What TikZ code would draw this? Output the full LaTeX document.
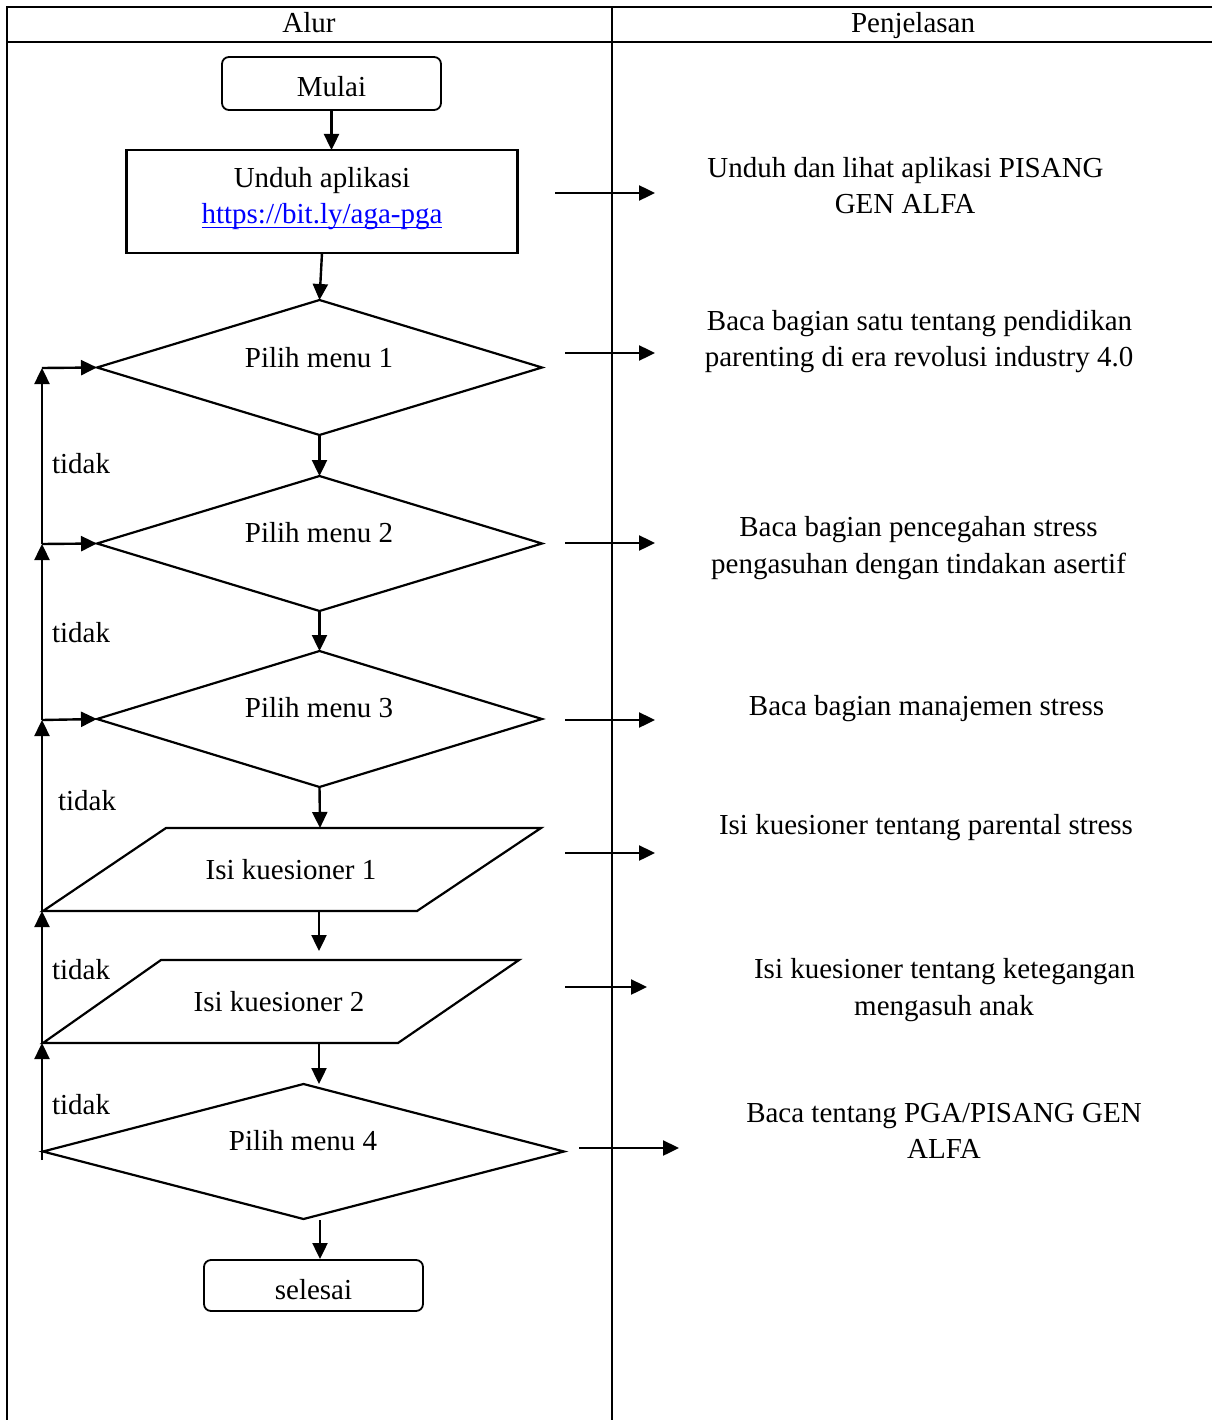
\documentclass[tikz,border=0pt]{standalone}
\usepackage{fontspec}
\setmainfont{Liberation Serif}
\usetikzlibrary{shapes.geometric,arrows.meta}
\begin{document}
\begin{tikzpicture}[x=1pt,y=-1pt,
  every node/.style={font=\fontsize{29}{35}\selectfont, inner sep=0pt, outer sep=0pt},
  txt/.style={anchor=base},
  txl/.style={anchor=base west},
  tab/.style={line width=2.2pt},
  arr/.style={line width=2.4pt,-{Triangle[length=16pt,width=15pt]}},
  rbox/.style={draw,line width=1.8pt,rounded corners=7pt,minimum width=219pt},
  sbox/.style={draw,line width=2.2pt,minimum width=391pt,minimum height=103pt},
  dia/.style={draw,diamond,line width=2.2pt,minimum width=445pt,minimum height=135pt},
  para/.style={draw,line width=2.2pt,line join=miter}
]
\useasboundingbox (0,0) rectangle (1212,1420);

% table
\coordinate (tl) at (7,7);
\coordinate (tr) at (1212,7);
\coordinate (hl) at (7,42);
\coordinate (hr) at (1212,42);
\coordinate (bl) at (7,1420);
\coordinate (mt) at (612,7);
\coordinate (mb) at (612,1420);
\draw[tab] (tr) -- (tl) -- (bl);
\draw[tab] (hl) -- (hr);
\draw[tab] (mt) -- (mb);
\node[txt] (halur) at (309,33) {Alur};
\node[txt] (hpenj) at (913,33) {Penjelasan};

% start
\node[rbox,minimum height=53pt] (mulai) at (331.5,83.5) {};
\node[txt] (mulaiT) at (331.5,97) {Mulai};

\node[sbox] (unduh) at (322,201.5) {};
\node[txt] (unduhT) at (322,188) {Unduh aplikasi};
\node[txt,text=blue] (link) at (322,224) {https://bit.ly/aga-pga};
\draw[blue,line width=1.6pt] ([yshift=-3.5pt]link.base west) -- ([yshift=-3.5pt]link.base east);

% diamonds
\node[dia] (d1) at (319.5,367.5) {};
\node[txt] (d1T) at (319,367) {Pilih menu 1};
\node[dia] (d2) at (319.5,543.5) {};
\node[txt] (d2T) at (319,542) {Pilih menu 2};
\node[dia,minimum height=136pt] (d3) at (319.5,719) {};
\node[txt] (d3T) at (319,717) {Pilih menu 3};

% parallelograms
\coordinate (p1a) at (166,828);
\coordinate (p1b) at (541,828);
\coordinate (p1c) at (417,911);
\coordinate (p1d) at (43,911);
\draw[para] (p1a) -- (p1b) -- (p1c) -- (p1d) -- cycle;
\node[txt] (p1T) at (291,879) {Isi kuesioner 1};
\coordinate (p2a) at (161,960);
\coordinate (p2b) at (519,960);
\coordinate (p2c) at (398,1043);
\coordinate (p2d) at (43,1043);
\draw[para] (p2a) -- (p2b) -- (p2c) -- (p2d) -- cycle;
\node[txt] (p2T) at (279,1011) {Isi kuesioner 2};

\node[dia,minimum width=521pt,minimum height=135pt] (d4) at (303.5,1151.5) {};
\node[txt] (d4T) at (303,1150) {Pilih menu 4};

\node[rbox,minimum height=51pt] (selesai) at (313.5,1285.5) {};
\node[txt] (selesaiT) at (313.5,1299) {selesai};

% main flow arrows
\draw[arr] (mulai.south) -- (mulai.south |- unduh.north);
\draw[arr] (unduh.south) -- (d1.north);
\draw[arr] (d1.south) -- (d2.north);
\draw[arr] (d2.south) -- (d3.north);
\coordinate (p1top) at (320,828);
\draw[arr] (d3.south) -- (p1top);
\coordinate (p1bot) at (319,911);
\coordinate (p2arr) at (319,951);
\draw[arr] (p1bot) -- (p2arr);
\coordinate (p2bot) at (319,1043);
\coordinate (d4arr) at (319,1084);
\draw[arr] (p2bot) -- (d4arr);
\coordinate (d4bot) at (320,1220);
\coordinate (selarr) at (320,1259);
\draw[arr] (d4bot) -- (selarr);

% left loop
\coordinate (L0) at (42,1160);
\coordinate (L1) at (42,1043);
\coordinate (L2) at (42,911);
\coordinate (L3) at (42,720);
\coordinate (L4) at (42,544);
\coordinate (L5) at (42,368);
\draw[arr] (L0) -- (L1);
\draw[arr] (L1) -- (L2);
\draw[arr] (L2) -- (L3);
\draw[arr] (L3) -- (L4);
\draw[arr] (L4) -- (L5);
\draw[arr] (L3) -- (d3.west);
\draw[arr] (L4) -- (d2.west);
\draw[arr] (L5) -- (d1.west);

\node[txl] (t1) at (52,473) {tidak};
\node[txl] (t2) at (52,642) {tidak};
\node[txl] (t3) at (58,810) {tidak};
\node[txl] (t4) at (52,979) {tidak};
\node[txl] (t5) at (52,1114) {tidak};

% right arrows
\coordinate (ra1) at (555,193); \coordinate (rb1) at (655,193);
\coordinate (ra2) at (565,353); \coordinate (rb2) at (655,353);
\coordinate (ra3) at (565,543); \coordinate (rb3) at (655,543);
\coordinate (ra4) at (565,720); \coordinate (rb4) at (655,720);
\coordinate (ra5) at (565,853); \coordinate (rb5) at (655,853);
\coordinate (ra6) at (565,987); \coordinate (rb6) at (647,987);
\coordinate (ra7) at (579,1148); \coordinate (rb7) at (679,1148);
\foreach \i in {1,...,7} {\draw[arr] (ra\i) -- (rb\i);}

% explanations
\node[txt] (e1a) at (905.5,178) {Unduh dan lihat aplikasi PISANG};
\node[txt] (e1b) at (905,214) {GEN ALFA};
\node[txt] (e2a) at (919.5,330) {Baca bagian satu tentang pendidikan};
\node[txt] (e2b) at (919,366) {parenting di era revolusi industry 4.0};
\node[txt] (e3a) at (918.5,536) {Baca bagian pencegahan stress};
\node[txt] (e3b) at (918.5,573) {pengasuhan dengan tindakan asertif};
\node[txt] (e4) at (926.5,715) {Baca bagian manajemen stress};
\node[txt] (e5) at (926,834) {Isi kuesioner tentang parental stress};
\node[txt] (e6a) at (944.5,978) {Isi kuesioner tentang ketegangan};
\node[txt] (e6b) at (944,1015) {mengasuh anak};
\node[txt] (e7a) at (944,1122) {Baca tentang PGA/PISANG GEN};
\node[txt] (e7b) at (944,1158) {ALFA};
\end{tikzpicture}
\end{document}
